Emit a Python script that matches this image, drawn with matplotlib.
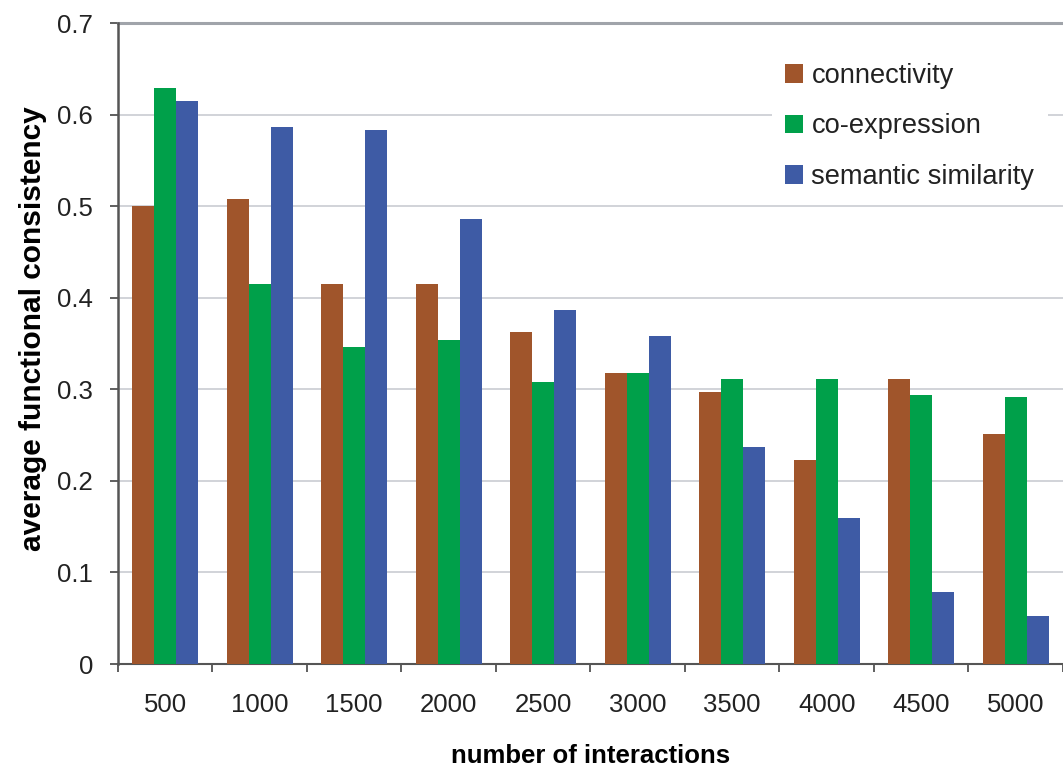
import matplotlib
matplotlib.use("Agg")
import matplotlib.pyplot as plt
import numpy as np

plt.rcParams['font.family'] = ['Liberation Sans', 'DejaVu Sans']

interactions = ["500", "1000", "1500", "2000", "2500", "3000", "3500", "4000", "4500", "5000"]
connectivity = [0.500, 0.508, 0.415, 0.415, 0.363, 0.318, 0.297, 0.223, 0.311, 0.251]
co_expression = [0.629, 0.415, 0.346, 0.354, 0.308, 0.318, 0.311, 0.311, 0.294, 0.292]
semantic_similarity = [0.615, 0.586, 0.583, 0.486, 0.387, 0.358, 0.237, 0.159, 0.079, 0.052]

series = [
    ("connectivity", connectivity, "#a0552b"),
    ("co-expression", co_expression, "#00a04a"),
    ("semantic similarity", semantic_similarity, "#3e5ba5"),
]

fig = plt.figure(figsize=(10.63, 7.69), dpi=100)
ax = fig.add_axes([0.111, 0.1365, 0.889, 0.8335])

x = np.arange(len(interactions))
width = 0.233
for i, (name, vals, col) in enumerate(series):
    ax.bar(x + (i - 1) * width, vals, width, color=col, label=name, zorder=3)

ax.set_xlim(-0.5, len(interactions) - 0.5)
ax.set_ylim(0, 0.7)
ax.set_yticks(np.arange(0, 0.71, 0.1))
ax.set_yticklabels(["0", "0.1", "0.2", "0.3", "0.4", "0.5", "0.6", "0.7"])

ax.set_xticks(x)
ax.set_xticklabels(interactions)
ax.set_xticks(np.arange(-0.5, len(interactions), 1.0), minor=True)
ax.tick_params(axis='x', which='major', length=0, pad=21, labelsize=18.5, colors='#222222')
ax.tick_params(axis='x', which='minor', length=6, width=1.2, color='#444444', direction='out')
ax.tick_params(axis='y', length=6, width=1.2, color='#444444', pad=12, labelsize=18.5, labelcolor='#222222')

ax.yaxis.grid(True, color='#c9ccd2', linewidth=1.2, zorder=0)
ax.set_axisbelow(True)
for s in ['top', 'right']:
    ax.spines[s].set_visible(False)
ax.spines['left'].set_color('#555555')
ax.spines['left'].set_linewidth(1.8)
ax.spines['bottom'].set_color('#555555')
ax.spines['bottom'].set_linewidth(1.5)
ax.axhline(0.7, color='#a0a4aa', linewidth=2.2, zorder=1, clip_on=False)

ax.set_xlabel("number of interactions", fontsize=18.5, fontweight='bold', labelpad=19)
ax.set_ylabel("average functional consistency", fontsize=21.5, fontweight='bold', labelpad=7)
ax.yaxis.label.set_y(0.523)

leg = ax.legend(loc='upper right', bbox_to_anchor=(0.984, 0.959), fontsize=19.6,
                frameon=True, facecolor='white', edgecolor='none', framealpha=1,
                handlelength=0.66, handleheight=0.66, handletextpad=0.3,
                labelspacing=0.9, borderpad=0.5, borderaxespad=0, fancybox=False)
for t in leg.get_texts():
    t.set_color('#222222')

fig.savefig("out.png", dpi=100)
